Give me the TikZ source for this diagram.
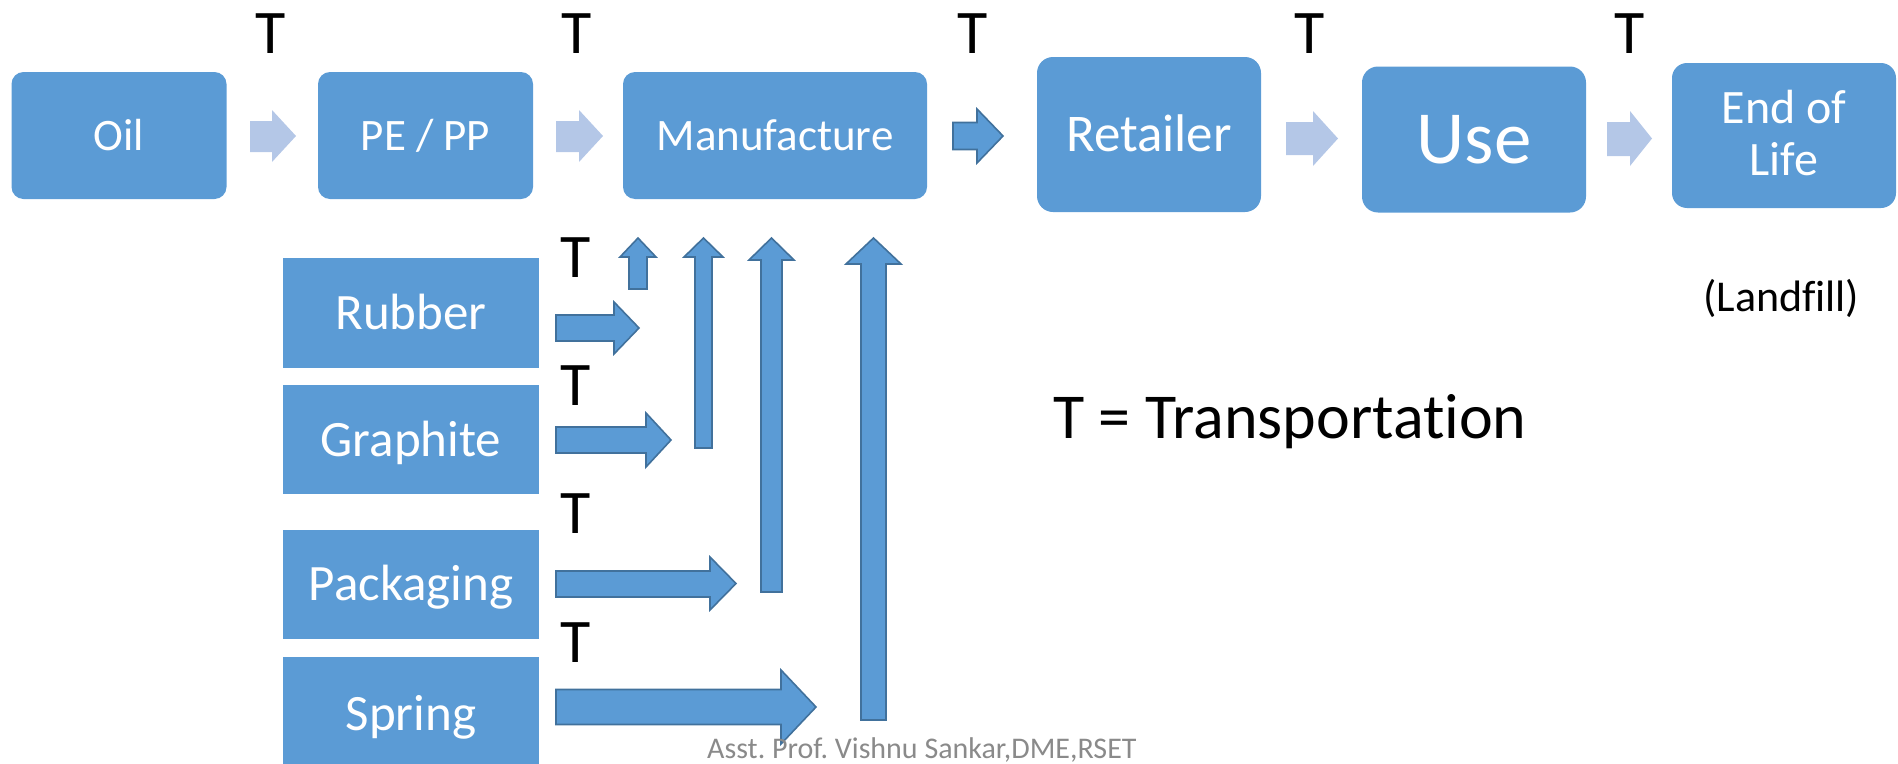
\documentclass[tikz,border=0pt]{standalone}
\usepackage{fontspec}
\setmainfont{Carlito}[Ligatures=NoCommon]
\definecolor{boxblue}{HTML}{5B9BD5}
\definecolor{lightarrow}{HTML}{B4C7E7}
\definecolor{arrowedge}{HTML}{41719C}
\definecolor{footgray}{HTML}{8A8A8A}
\newcommand\fs[2]{\fontsize{#1}{#2}\selectfont}
\frenchspacing
\begin{document}
\begin{tikzpicture}[x=1pt,y=-1pt,
  topbox/.style={fill=boxblue, draw=none, rounded corners=12pt, text=white,
    inner sep=0pt, text depth=0pt},
  sidebox/.style={fill=boxblue, draw=none, text=white, inner sep=0pt,
    minimum width=256pt, text height=33pt, text depth=0pt, font=\fs{51}{51}},
  tlabel/.style={anchor=base, inner sep=0pt, font=\fs{62}{62}},
  lightarr/.style={fill=lightarrow, draw=none},
  darkarr/.style={fill=boxblue, draw=arrowedge, line width=1.6pt, line join=miter},
]
\useasboundingbox (0,0) rectangle (1898,763);

% top row boxes
\node[topbox, minimum width=215pt, minimum height=127pt, text height=29pt, font=\fs{45}{45}] (oil) at (119,135.5) {Oil};
\node[topbox, minimum width=215pt, minimum height=127pt, text height=29pt, font=\fs{45}{45}] (pepp) at (425.5,135.5) {PE / PP};
\node[topbox, minimum width=304pt, minimum height=127pt, text height=29pt, font=\fs{45}{45}] (manu) at (775,135.5) {Manufacture};
\node[topbox, rounded corners=16pt, minimum width=224pt, minimum height=155pt, text height=34pt, font=\fs{53}{53}] (retail) at (1149,134.5) {Retailer};
\node[topbox, rounded corners=16pt, minimum width=224pt, minimum height=146pt, text height=48pt, font=\fs{75}{75}] (use) at (1474,139.5) {Use};
\node[topbox, rounded corners=15pt, minimum width=224pt, minimum height=145pt] (eol) at (1784,135.5) {};
\node[anchor=base, text=white, inner sep=0pt, font=\fs{48}{52}] (eol1) at (eol.center |- 0,123) {End of};
\node[anchor=base, text=white, inner sep=0pt, font=\fs{48}{52}] (eol2) at (eol.center |- 0,175) {Life};

% side boxes
\node[sidebox, minimum height=110pt] (rubber) at (411,313) {Rubber};
\node[sidebox, minimum height=109pt] (graphite) at (411,439.5) {Graphite};
\node[sidebox, minimum height=109pt] (packaging) at (411,584) {Packaging};
\node[sidebox, minimum height=113pt] (spring) at (411,713.5) {Spring};

% top arrows
\fill[lightarr] (250,121) -- (272,121) -- (272,110) -- (296,136) -- (272,162) -- (272,152) -- (250,152) -- cycle;
\fill[lightarr] (556,121) -- (579,121) -- (579,110) -- (603,136) -- (579,162) -- (579,152) -- (556,152) -- cycle;
\draw[darkarr] (953,122.5) -- (977,122.5) -- (977,109) -- (1003,136) -- (977,163) -- (977,149.5) -- (953,149.5) -- cycle;
\fill[lightarr] (1286,122) -- (1313,122) -- (1313,111) -- (1338,138.5) -- (1313,166) -- (1313,155) -- (1286,155) -- cycle;
\fill[lightarr] (1607,122) -- (1630,122) -- (1630,111) -- (1652,138.5) -- (1630,166) -- (1630,156) -- (1607,156) -- cycle;

% side arrows (right)
\draw[darkarr] (556,315) -- (614,315) -- (614,302) -- (639,328) -- (614,354) -- (614,341) -- (556,341) -- cycle;
\draw[darkarr] (556,427) -- (646,427) -- (646,413) -- (671,440) -- (646,467) -- (646,453) -- (556,453) -- cycle;
\draw[darkarr] (556,571) -- (710,571) -- (710,557) -- (736,583.5) -- (710,610) -- (710,597) -- (556,597) -- cycle;
\draw[darkarr] (556,689.5) -- (781,689.5) -- (781,670) -- (816,707) -- (781,744) -- (781,724.5) -- (556,724.5) -- cycle;

% up arrows
\draw[darkarr] (629,289) -- (629,257) -- (620,257) -- (638,238) -- (656,257) -- (647,257) -- (647,289) -- cycle;
\draw[darkarr] (695,448) -- (695,257) -- (684,257) -- (703.5,238) -- (723,257) -- (712,257) -- (712,448) -- cycle;
\draw[darkarr] (761,592) -- (761,260) -- (749,260) -- (771.5,238) -- (794,260) -- (782,260) -- (782,592) -- cycle;
\draw[darkarr] (861,720) -- (861,264) -- (846,264) -- (873.5,238) -- (901,264) -- (886,264) -- (886,720) -- cycle;

% T labels
\node[tlabel] (t1) at (271,53) {T};
\node[tlabel] (t2) at (577,53) {T};
\node[tlabel] (t3) at (973,53) {T};
\node[tlabel] (t4) at (1310,53) {T};
\node[tlabel] (t5) at (1630,53) {T};
\node[tlabel] (t6) at (576,277) {T};
\node[tlabel] (t7) at (576,405) {T};
\node[tlabel] (t8) at (576,533) {T};
\node[tlabel] (t9) at (576,662) {T};

% other texts
\node[anchor=base west, inner sep=0pt, font=\fs{64}{64}] (legend) at (1053,438) {T = Transportation};
\node[anchor=base west, inner sep=0pt, font=\fs{44}{44}] (landfill) at (1703,311.5) {(Landfill)};
\node[anchor=base west, inner sep=0pt, text=footgray, font=\fs{30}{30}] (footer) at (707,758) {Asst. Prof. Vishnu Sankar,DME,RSET};
\end{tikzpicture}
\end{document}
